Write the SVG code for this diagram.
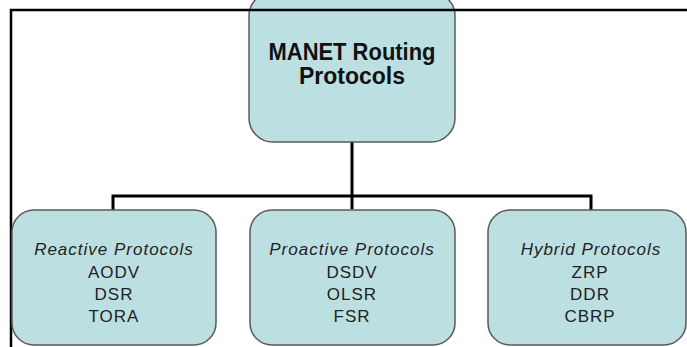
<svg xmlns="http://www.w3.org/2000/svg" width="687" height="347" viewBox="0 0 687 347">
<style>
.box{fill:#BCE0E2;stroke:#5a5a5a;stroke-width:1.5}
.conn{fill:none;stroke:#000;stroke-width:3}
.frame{fill:none;stroke:#000;stroke-width:2.5}
.t{font-family:"Liberation Sans",Arial,sans-serif;font-size:17px;letter-spacing:1px;fill:#222;text-anchor:middle}
.i{font-style:italic}
.title{font-family:"Liberation Sans",Arial,sans-serif;font-size:23px;font-weight:bold;fill:#111;text-anchor:middle}
</style>
<rect width="687" height="347" fill="#fff"/>
<g id="connectors">
<path class="conn" d="M352 142 V209"/>
<path class="conn" d="M113 210 V196 H591 V210"/>
</g>
<g id="root">
<rect class="box" x="249" y="-8" width="206" height="150" rx="24"/>
<text class="title" x="352" y="60" textLength="167" lengthAdjust="spacingAndGlyphs">MANET Routing</text>
<text class="title" x="352" y="84">Protocols</text>
</g>
<g id="frame">
<path class="frame" d="M11 347 V10 H687"/>
</g>
<g id="reactive">
<rect class="box" x="12" y="210" width="204" height="135" rx="22"/>
<text class="t i" x="114" y="255">Reactive Protocols</text>
<text class="t" x="114" y="278">AODV</text>
<text class="t" x="114" y="300">DSR</text>
<text class="t" x="114" y="322">TORA</text>
</g>
<g id="proactive">
<rect class="box" x="250" y="210" width="205" height="135" rx="22"/>
<text class="t i" x="352" y="255">Proactive Protocols</text>
<text class="t" x="352" y="278">DSDV</text>
<text class="t" x="352" y="300">OLSR</text>
<text class="t" x="352" y="322">FSR</text>
</g>
<g id="hybrid">
<rect class="box" x="488" y="210" width="198" height="135" rx="22"/>
<text class="t i" x="591" y="255">Hybrid Protocols</text>
<text class="t" x="590" y="278">ZRP</text>
<text class="t" x="590" y="300">DDR</text>
<text class="t" x="590" y="322">CBRP</text>
</g>
</svg>
